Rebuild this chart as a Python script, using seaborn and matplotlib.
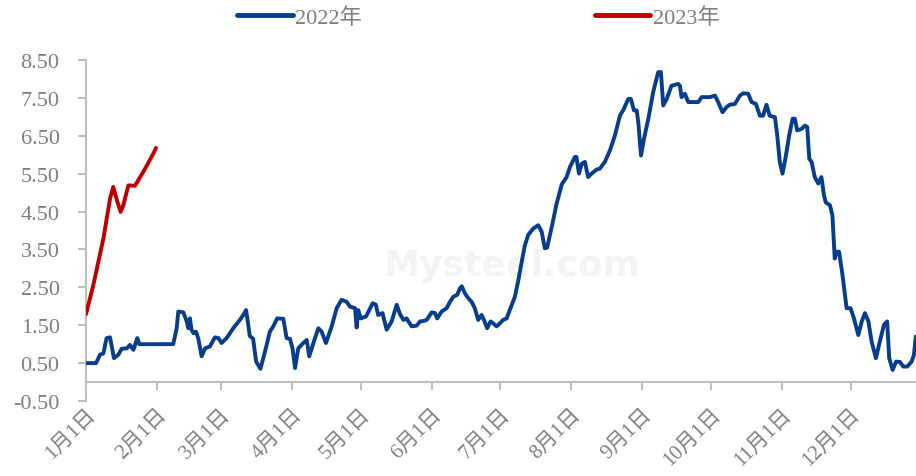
import numpy as np
import matplotlib.pyplot as plt
import seaborn as sns
import pandas as pd
from matplotlib.lines import Line2D

# day of year (0 = Jan 1) and value
days_2022 = [0, 4.4, 6.1, 7.6, 9.0, 10.5, 12.2, 14.1, 15.6, 17.8, 19.2, 20.7, 22.4, 23.3,
             38.1, 39.6, 40.3, 42.5, 44.0, 44.7, 45.4, 46.1, 46.9, 48.0, 49.0, 50.5, 52.0,
             54.1, 56.3, 57.8, 59.2, 61.4, 64.3, 67.2, 68.7, 69.9, 70.9, 71.5, 73.0, 74.3,
             76.2, 78.2, 80.3, 81.8, 83.5, 86.2, 87.6, 89.1, 90.2, 91.3, 92.7, 94.9, 96.4,
             97.5, 100.0, 101.5, 102.9, 104.8, 107.3, 109.5, 111.6, 113.8, 115.3, 117.5,
             118.2, 118.9, 120.0, 122.3, 125.2, 126.6, 127.6, 129.5, 131.3, 133.5, 135.7,
             137.1, 138.6, 140.0, 142.2, 144.4, 145.9, 147.3, 148.8, 151.0, 152.4, 153.4,
             155.3, 157.5, 159.0, 160.4, 162.1, 163.3, 164.1, 165.5, 167.0, 168.4, 169.8,
             171.3, 172.8, 173.8, 175.2, 176.7, 177.8, 179.3, 180.8, 182.2, 183.7, 185.9,
             187.3, 188.7, 190.3, 191.7, 193.1, 195.3, 197.5, 199.0, 200.4, 201.4, 203.8,
             205.5, 206.5, 207.8, 209.9, 211.4, 213.5, 214.2, 215.3, 216.5, 217.9, 219.3,
             220.8, 223.0, 224.4, 226.6, 228.8, 231.0, 233.2, 234.9, 236.8, 238.0, 239.3,
             240.5, 241.2, 242.4, 243.7, 245.6, 247.7, 249.9, 251.1, 252.1, 253.6, 255.7,
             258.6, 259.4, 260.1, 261.6, 263.0, 267.4, 268.9, 272.5, 274.7, 276.1, 278.0,
             279.8, 281.2, 283.4, 285.6, 287.0, 289.2, 290.7, 292.6, 294.3, 295.7, 297.2,
             298.6, 300.9, 301.9, 303.0, 304.2, 305.7, 307.1, 308.6, 309.6, 310.6, 312.5,
             314.0, 315.0, 315.9, 316.9, 318.3, 319.8, 321.2, 322.3, 323.1, 324.9, 326.0,
             327.0, 327.8, 328.9, 330.4, 332.2, 333.9, 335.4, 337.3, 338.8, 340.2, 341.7,
             343.1, 345.0, 346.7, 348.5, 349.9, 350.8, 352.3, 353.8, 355.5, 356.9, 358.7,
             360.6, 361.6, 362.4]
vals_2022 = [0.50, 0.50, 0.72, 0.76, 1.16, 1.18, 0.63, 0.72, 0.88, 0.89, 0.98, 0.85, 1.16, 1.00,
             1.00, 1.42, 1.86, 1.84, 1.60, 1.42, 1.68, 1.38, 1.29, 1.33, 1.16, 0.68, 0.89,
             0.94, 1.18, 1.16, 1.03, 1.16, 1.42, 1.64, 1.77, 1.90, 1.50, 1.22, 1.14, 0.54,
             0.35, 0.81, 1.33, 1.47, 1.68, 1.67, 1.16, 1.14, 0.89, 0.37, 0.89, 1.03, 1.11,
             0.68, 1.16, 1.42, 1.33, 1.03, 1.47, 1.95, 2.17, 2.12, 1.99, 1.95,
             1.44, 1.90, 1.68, 1.73, 2.08, 2.04, 1.77, 1.82, 1.38, 1.60, 2.04,
             1.80, 1.64, 1.68, 1.47, 1.49, 1.60, 1.61, 1.64, 1.84, 1.82, 1.68,
             1.86, 1.95, 2.12, 2.25, 2.30, 2.47, 2.53, 2.34, 2.21, 2.12, 1.95,
             1.64, 1.77, 1.64, 1.42, 1.60, 1.55, 1.47, 1.55, 1.64, 1.68, 2.03,
             2.25, 2.65, 3.18, 3.61, 3.88, 4.05, 4.14, 3.97, 3.53, 3.55, 4.20,
             4.70, 4.93, 5.22, 5.41, 5.68, 5.94, 5.94, 5.50, 5.76, 5.81, 5.41,
             5.50, 5.61, 5.63, 5.81, 6.11, 6.51, 7.03, 7.21, 7.47, 7.47, 7.17,
             7.17, 6.86, 5.98, 6.42, 6.95, 7.65, 8.18, 8.18, 7.30, 7.47, 7.82,
             7.87, 7.82, 7.52, 7.61, 7.39, 7.39, 7.52, 7.52, 7.56, 7.39, 7.12,
             7.26, 7.32, 7.34, 7.56, 7.62, 7.61, 7.39, 7.34, 7.03, 7.03, 7.32,
             7.03, 6.99, 6.51, 5.81, 5.50, 5.98, 6.51, 6.95, 6.95, 6.64, 6.68,
             6.77, 6.73, 5.89, 5.81, 5.41, 5.24, 5.41, 4.93, 4.74, 4.67, 4.40,
             3.26, 3.44, 3.44, 2.82, 1.95, 1.95, 1.68, 1.24, 1.60, 1.82, 1.60,
             1.07, 0.63, 1.07, 1.51, 1.60, 0.63, 0.32, 0.54, 0.53, 0.41, 0.41,
             0.54, 0.72, 1.20]

days_2023 = [0, 3.2, 7.6, 10.5, 11.9, 13.7, 15.1, 16.3, 18.5, 21.4, 25.8, 29.4, 30.6]
vals_2023 = [1.79, 2.56, 3.79, 4.84, 5.15, 4.76, 4.49, 4.67, 5.19, 5.18, 5.63, 6.03, 6.18]

month_starts = [0, 31, 59, 90, 120, 151, 181, 212, 243, 273, 304, 334]
month_labels = ['%d月1日' % m for m in range(1, 13)]
y_ticks = [-0.5, 0.5, 1.5, 2.5, 3.5, 4.5, 5.5, 6.5, 7.5, 8.5]

df = pd.concat([
    pd.DataFrame({'day': days_2022, 'value': vals_2022, 'year': '2022年'}),
    pd.DataFrame({'day': days_2023, 'value': vals_2023, 'year': '2023年'}),
])

sns.set_style('white')
plt.rcParams['font.family'] = ['Liberation Serif', 'Noto Sans CJK SC']
gray = '#7f7f7f'
axis_c = '#bfbfbf'

fig = plt.figure(figsize=(9.16, 4.77), dpi=100)
ax = fig.add_axes([86 / 916, 1 - 402 / 477, 830 / 916, 341 / 477])

# faint watermark
ax.text(0.513, 0.40, 'Mysteel.com', transform=ax.transAxes, ha='center', va='center',
        fontsize=26, fontweight='bold', color='#f4f4f4', family='DejaVu Sans', zorder=0)

sns.lineplot(data=df, x='day', y='value', hue='year', estimator=None, sort=False,
             palette={'2022年': '#063d8c', '2023年': '#c00000'}, linewidth=2.8, ax=ax,
             legend=False, zorder=3)

# spine position first: moving it resets the ticks
for s in ['top', 'right']:
    ax.spines[s].set_visible(False)
ax.spines['bottom'].set_position(('data', 0))
for s in ['left', 'bottom']:
    ax.spines[s].set_color(axis_c)
    ax.spines[s].set_linewidth(1.5)

ax.set_xlim(0, 362.5)
ax.set_ylim(-0.5, 8.5)
ax.set_yticks(y_ticks)
ax.set_yticklabels(['%.2f' % v for v in y_ticks])
ax.set_xticks(month_starts)
ax.set_xticklabels(month_labels, rotation=45, ha='right', va='top', rotation_mode='anchor')
ax.set_xlabel('')
ax.set_ylabel('')

ax.tick_params(axis='y', direction='out', length=6, width=1.5, color=axis_c,
               labelsize=16, labelcolor=gray, pad=13, left=True)
ax.tick_params(axis='x', direction='out', length=6, width=1.5, color=axis_c,
               labelsize=15, labelcolor=gray, pad=10, bottom=True)

handles = [Line2D([], [], color='#063d8c', lw=3.5), Line2D([], [], color='#c00000', lw=3.5)]
fig.legend(handles, ['2022年', '2023年'], loc='center', bbox_to_anchor=(0.522, 0.962),
           ncol=2, frameon=False, fontsize=16, labelcolor=gray, handlelength=2.5,
           handletextpad=0.1, columnspacing=10.5)

fig.savefig('out.png', dpi=100)
